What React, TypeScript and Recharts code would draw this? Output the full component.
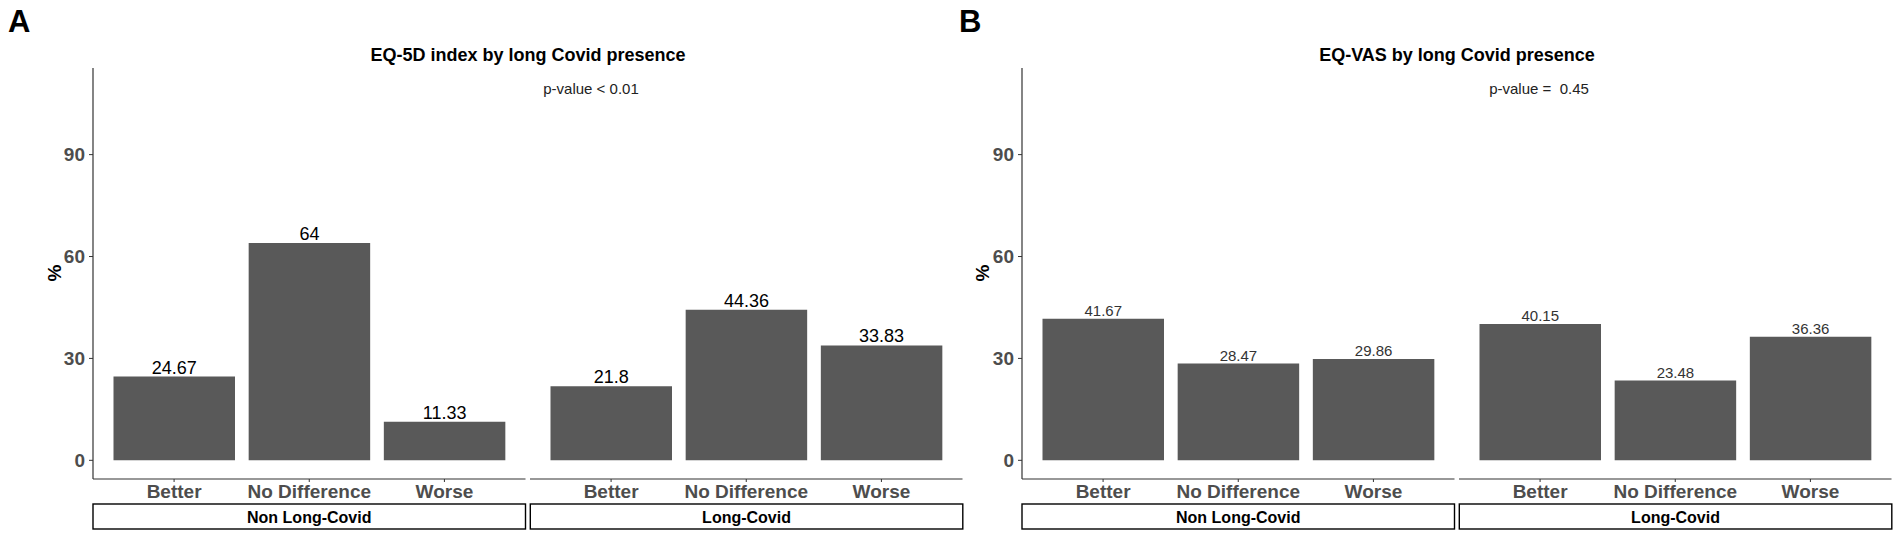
import React from "react";
import { BarChart, Bar, XAxis, YAxis, LabelList } from "recharts";

const categories = ["Better", "No Difference", "Worse"];
const facetNames = ["Non Long-Covid", "Long-Covid"];
const yTicks = [0, 30, 60, 90];

// EQ-5D index (panel A)
const eq5dNonLong = [24.67, 64, 11.33];
const eq5dLong = [21.8, 44.36, 33.83];
// EQ-VAS (panel B)
const vasNonLong = [41.67, 28.47, 29.86];
const vasLong = [40.15, 23.48, 36.36];

const titles = ["EQ-5D index by long Covid presence", "EQ-VAS by long Covid presence"];
const pValues = ["p-value < 0.01", "p-value =  0.45"];
const letters = ["A", "B"];

const FONT = "'Liberation Sans', Arial, Helvetica, sans-serif";
const H = 538;
const TOP = 68;
const AXIS_Y = 479;
const PANEL_W = 432.5;
const DOMAIN: [number, number] = [-5.5, 115.5];

type FacetProps = {
  left: number;
  axisW: number;
  values: number[];
  labelSize: number;
  labelColor: string;
};

function Facet({ left, axisW, values, labelSize, labelColor }: FacetProps) {
  const data = categories.map((c, i) => ({ cat: c, value: values[i] }));
  return (
    <div style={{ position: "absolute", left: left - axisW, top: 0 }}>
      <BarChart
        width={axisW + PANEL_W}
        height={H}
        data={data}
        margin={{ top: TOP, right: 0, bottom: 0, left: 0 }}
      >
        <XAxis
          dataKey="cat"
          interval={0}
          height={H - AXIS_Y}
          padding={{ left: 13.5, right: 13.5 }}
          axisLine={{ stroke: "#333", strokeWidth: 1.2 }}
          tickLine={{ stroke: "#333" }}
          tickSize={3}
          tickMargin={3}
          tick={{ fontSize: 19, fontWeight: 700, fill: "#4d4d4d", fontFamily: FONT }}
        />
        <YAxis
          hide={axisW === 0}
          width={axisW}
          type="number"
          domain={DOMAIN}
          allowDataOverflow
          ticks={yTicks}
          interval={0}
          axisLine={{ stroke: "#333", strokeWidth: 1.2 }}
          tickLine={{ stroke: "#333" }}
          tickSize={4}
          tickMargin={4}
          tick={{ fontSize: 19, fontWeight: 700, fill: "#4d4d4d", fontFamily: FONT }}
        />
        <Bar dataKey="value" fill="#595959" barSize={121.5} isAnimationActive={false}>
          <LabelList
            dataKey="value"
            position="top"
            offset={3}
            fill={labelColor}
            style={{ fontSize: labelSize, fontFamily: FONT, fill: labelColor }}
          />
        </Bar>
      </BarChart>
    </div>
  );
}

const panels = [
  { offset: 0, lefts: [93, 530.3], axisW: 93, series: [eq5dNonLong, eq5dLong], titleX: 528, pX: 591, pctX: 54.6, labelSize: 18, labelColor: "#000" },
  { offset: 951, lefts: [1022, 1459.3], axisW: 71, series: [vasNonLong, vasLong], titleX: 1457, pX: 1539, pctX: 982.5, labelSize: 15, labelColor: "#333" },
];

export default function App() {
  return (
    <div style={{ position: "absolute", left: 0, top: 0, width: 1902, height: H, background: "#fff", fontFamily: FONT }}>
      {panels.map((p, pi) =>
        p.lefts.map((l, fi) => (
          <Facet
            key={`${pi}-${fi}`}
            left={l}
            axisW={fi === 0 ? p.axisW : 0}
            values={p.series[fi]}
            labelSize={p.labelSize}
            labelColor={p.labelColor}
          />
        ))
      )}
      <svg width={1902} height={H} style={{ position: "absolute", left: 0, top: 0, pointerEvents: "none" }}>
        {panels.map((p, pi) => (
          <g key={pi} fontFamily={FONT}>
            <text x={p.offset + 8} y={31.7} fontSize={31} fontWeight={700} fill="#000">
              {letters[pi]}
            </text>
            <text x={p.titleX} y={60.5} fontSize={18} fontWeight={700} fill="#000" textAnchor="middle">
              {titles[pi]}
            </text>
            <text x={p.pX} y={94} fontSize={15} fill="#222" textAnchor="middle" style={{ whiteSpace: "pre" }}>
              {pValues[pi]}
            </text>
            <text
              x={p.pctX}
              y={273}
              fontSize={19}
              fontWeight={700}
              fill="#000"
              textAnchor="middle"
              dominantBaseline="central"
              transform={`rotate(-90 ${p.pctX} 273)`}
            >
              %
            </text>
            {p.lefts.map((l, fi) => (
              <g key={fi}>
                <rect x={l} y={504} width={PANEL_W} height={25} fill="#fff" stroke="#000" strokeWidth={1.4} />
                <text x={l + PANEL_W / 2} y={523} fontSize={16} fontWeight={700} fill="#000" textAnchor="middle">
                  {facetNames[fi]}
                </text>
              </g>
            ))}
          </g>
        ))}
      </svg>
    </div>
  );
}
